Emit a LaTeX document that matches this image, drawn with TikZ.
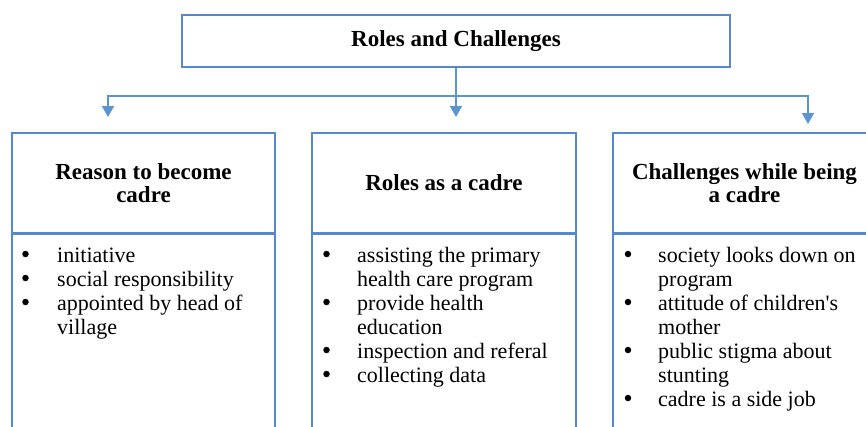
\documentclass[tikz,border=0pt]{standalone}
\usepackage{fontspec}
\setmainfont{Liberation Serif}
\usetikzlibrary{arrows.meta}
\definecolor{boxblue}{RGB}{84,138,204}
\definecolor{arrblue}{RGB}{91,148,208}
\begin{document}
\begin{tikzpicture}[x=1pt,y=-1pt,
  frame/.style={draw=boxblue, line width=1.6pt, inner sep=0pt},
  conn/.style={draw=arrblue, line width=1.6pt},
  tip/.style={-{Triangle[width=12pt,length=11pt]}},
  head/.style={font=\bfseries\fontsize{23}{23}\selectfont, align=center, text=black},
  items/.style={font=\fontsize{22}{24}\selectfont, anchor=base west, inner sep=0pt, align=left},
  dot/.style={circle, fill=black, minimum size=6.5pt, inner sep=0pt}]
\useasboundingbox (0,0) rectangle (866,426);
\clip (0,0) rectangle (866,426);
% title box
\node[frame, head, minimum width=548pt, minimum height=52pt] (top) at (456,41) {Roles and Challenges};
% heading boxes
\node[frame, head, minimum width=263pt, minimum height=100pt] (h1) at (143.5,183) {Reason to become\\cadre};
\node[frame, head, minimum width=264pt, minimum height=100pt] (h2) at (444,183) {Roles as a cadre};
\node[frame, head, minimum width=263pt, minimum height=100pt] (h3) at (744.5,183) {Challenges while being\\a cadre};
% body boxes
\node[frame, minimum width=263pt, minimum height=220pt, anchor=north] (b1) at (h1.south) {};
\node[frame, minimum width=264pt, minimum height=220pt, anchor=north] (b2) at (h2.south) {};
\node[frame, minimum width=263pt, minimum height=220pt, anchor=north] (b3) at (h3.south) {};
% connectors
\coordinate (jm) at (456,96);
\coordinate (t1) at (108,117);
\coordinate (t2) at (456,117);
\coordinate (t3) at (808,124);
\draw[conn] (top.south) -- (jm);
\draw[conn,tip] (jm) -| (t1);
\draw[conn,tip] (jm) -| (t3);
\draw[conn,tip] (top.south) -- (t2);
% lists
\node[items] (l1) at (57,262) {\begin{tabular}[t]{@{}l@{}}
initiative\\
social responsibility\\
appointed by head of\\
village
\end{tabular}};
\node[items] (l2) at (357,262) {\begin{tabular}[t]{@{}l@{}}
assisting the primary\\
health care program\\
provide health\\
education\\
inspection and referal\\
collecting data
\end{tabular}};
\node[items] (l3) at (658,262) {\begin{tabular}[t]{@{}l@{}}
society looks down on\\
program\\
attitude of children\textquotesingle s\\
mother\\
public stigma about\\
stunting\\
cadre is a side job
\end{tabular}};
% bullets
\foreach \r [count=\i] in {0,1,2} \node[dot] (da\i) at (25.5,254+24*\r) {};
\foreach \r [count=\i] in {0,2,4,5} \node[dot] (db\i) at (326.5,254+24*\r) {};
\foreach \r [count=\i] in {0,2,4,6} \node[dot] (dc\i) at (628,254+24*\r) {};
\end{tikzpicture}
\end{document}
